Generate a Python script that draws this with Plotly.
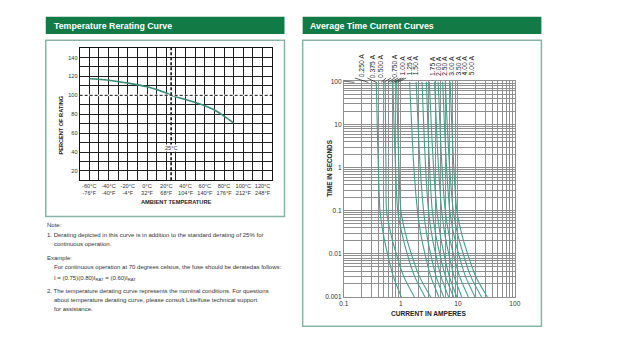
import math
import plotly.graph_objects as go

W, H = 625, 347
FONT = "Liberation Sans"
GREEN = "#127a45"
BOX = "#86b5a8"
CURVE_L = "#3a8a74"
CURVE_R = "#43a088"

# ---------------- Left chart data: temperature rerating ----------------
temp_c = [-60, -40, -20, 0, 20, 25, 40, 60, 70, 80, 90]
rating_pct = [117.5, 116, 113, 109, 102.5, 100, 95.5, 89, 84.5, 78, 70.5]
temp_tick_vals = [-60, -40, -20, 0, 20, 40, 60, 80, 100, 120]
temp_tick_text = ["-60°C<br>-76°F", "-40°C<br>-40°F", "-20°C<br>-4°F", "0°C<br>32°F",
                  "20°C<br>68°F", "40°C<br>104°F", "60°C<br>140°F", "80°C<br>176°F",
                  "100°C<br>212°F", "120°C<br>248°F"]
pct_tick_vals = [20, 40, 60, 80, 100, 120, 140]

# ---------------- Right chart data: average time-current curves ----------------
time_s = [100, 10, 1, 0.1, 0.03, 0.01, 0.003, 0.001]
amps_0250 = [0.37, 0.384, 0.402, 0.43, 0.489, 0.582, 0.734, 1.02]
amps_0375 = [0.53, 0.537, 0.546, 0.56, 0.663, 0.829, 1.12, 1.72]
amps_0500 = [0.72, 0.757, 0.804, 0.88, 1.04, 1.29, 1.74, 2.65]
amps_0750 = [0.84, 0.877, 0.924, 1.0, 1.2, 1.52, 2.11, 3.33]
amps_100 = [1.42, 1.54, 1.69, 1.95, 2.22, 2.64, 3.34, 4.64]
amps_125 = [1.85, 2.0, 2.18, 2.5, 2.82, 3.32, 4.14, 5.63]
amps_150 = [2.35, 2.51, 2.71, 3.05, 3.45, 4.06, 5.05, 6.88]
amps_175 = [2.8, 2.97, 3.19, 3.55, 4.04, 4.8, 6.07, 8.42]
amps_200 = [3.15, 3.41, 3.74, 4.3, 4.85, 5.7, 7.07, 9.6]
amps_250 = [3.9, 4.19, 4.57, 5.2, 5.87, 6.91, 8.6, 11.7]
amps_300 = [4.5, 4.84, 5.27, 6.0, 6.9, 8.33, 10.7, 15.3]
amps_350 = [5.4, 5.8, 6.33, 7.2, 8.39, 10.3, 13.6, 20]
amps_400 = [6.0, 6.51, 7.17, 8.3, 9.85, 12.4, 16.8, 26]
amps_500 = [7.3, 7.82, 8.49, 9.6, 11.6, 14.8, 20.6, 33]
curve_labels = ["0.250 A", "0.375 A", "0.500 A", "0.750 A", "1.00 A", "1.25 A", "1.50 A",
                "1.75 A", "2.00 A", "2.50 A", "3.00 A", "3.50 A", "4.00 A", "5.00 A"]
curve_amps = [amps_0250, amps_0375, amps_0500, amps_0750, amps_100, amps_125, amps_150,
              amps_175, amps_200, amps_250, amps_300, amps_350, amps_400, amps_500]
# where each rotated label sits along the current axis (amperes)
label_at_amps = [0.204, 0.316, 0.435, 0.789, 1.08, 1.43, 1.81,
                 3.56, 4.7, 5.97, 7.88, 10.4, 13.2, 17.4]

time_tick_major = [0.001, 0.01, 0.1, 1, 10, 100]
time_tick_text = ["0.001", "0.01", "0.1", "1", "10", "100"]
amp_tick_major = [0.1, 1, 10, 100]
amp_tick_text = ["0.1", "1", "10", "100"]


def X(px):
    return px / W


def Y(py):
    return 1 - py / H


def log_grid(lo_exp, hi_exp):
    vals = []
    for e in range(lo_exp, hi_exp):
        for d in range(1, 10):
            vals.append(d * 10 ** e)
    vals.append(10 ** hi_exp)
    return vals


fig = go.Figure()

fig.add_trace(go.Scatter(x=temp_c, y=rating_pct, mode="lines", xaxis="x", yaxis="y",
                         line=dict(color=CURVE_L, width=1.6, shape="spline"),
                         showlegend=False, hoverinfo="skip"))

for amps in curve_amps:
    fig.add_trace(go.Scatter(x=amps, y=time_s, mode="lines", xaxis="x2", yaxis="y2",
                             line=dict(color=CURVE_R, width=1.1, shape="spline", smoothing=0.8),
                             showlegend=False, hoverinfo="skip"))

# grids
x1_vals = list(range(-70, 131, 10))
x1_text = [temp_tick_text[temp_tick_vals.index(v)] if v in temp_tick_vals else "" for v in x1_vals]
y1_vals = list(range(10, 151, 10))
y1_text = [str(v) if v in pct_tick_vals else "" for v in y1_vals]

x2_vals = log_grid(-1, 2)
x2_text = [amp_tick_text[amp_tick_major.index(v)] if v in amp_tick_major else "" for v in x2_vals]
y2_vals = log_grid(-3, 2)
y2_text = [time_tick_text[time_tick_major.index(v)] if v in time_tick_major else "" for v in y2_vals]

tick_font_l = dict(family=FONT, size=5.6, color="#333")
tick_font_r = dict(family=FONT, size=6.6, color="#333")

fig.update_layout(
    width=W, height=H, margin=dict(l=0, r=0, t=0, b=0),
    paper_bgcolor="white", plot_bgcolor="white",
    xaxis=dict(domain=[X(76), X(272)], range=[-70, 130], tickmode="array",
               tickvals=x1_vals, ticktext=x1_text, showgrid=True, gridcolor="#1e1e1e",
               gridwidth=1, zeroline=False, showline=True, mirror=True, linecolor="#111",
               linewidth=1, ticks="", tickangle=0, tickfont=tick_font_l, anchor="y"),
    yaxis=dict(domain=[Y(180), Y(45)], range=[10, 150], tickmode="array",
               tickvals=y1_vals, ticktext=y1_text, showgrid=True, gridcolor="#1e1e1e",
               gridwidth=1, zeroline=False, showline=True, mirror=True, linecolor="#111",
               linewidth=1, ticks="", tickangle=0, tickfont=tick_font_l, anchor="x"),
    xaxis2=dict(domain=[X(345), X(519)], type="log", range=[-1, 2], tickmode="array",
                tickvals=x2_vals, ticktext=x2_text, showgrid=True, gridcolor="#8f8f8f",
                gridwidth=0.8, zeroline=False, showline=True, mirror=True,
                linecolor="#8f8f8f", linewidth=0.8, ticks="", tickangle=0,
                tickfont=tick_font_r, anchor="y2"),
    yaxis2=dict(domain=[Y(299), Y(79)], type="log", range=[-3, 2], tickmode="array",
                tickvals=y2_vals, ticktext=y2_text, showgrid=True, gridcolor="#8f8f8f",
                gridwidth=0.8, zeroline=False, showline=True, mirror=True,
                linecolor="#8f8f8f", linewidth=0.8, ticks="", tickangle=0,
                tickfont=tick_font_r, anchor="x2"),
)

shapes = []
# header bars
shapes.append(dict(type="rect", xref="paper", yref="paper", x0=X(41.5), x1=X(284.5),
                   y0=Y(30.5), y1=Y(13), fillcolor=GREEN, line=dict(width=0), layer="below"))
shapes.append(dict(type="rect", xref="paper", yref="paper", x0=X(303), x1=X(546),
                   y0=Y(30.5), y1=Y(13), fillcolor=GREEN, line=dict(width=0), layer="below"))
# panel boxes
shapes.append(dict(type="rect", xref="paper", yref="paper", x0=X(41.5), x1=X(284.5),
                   y0=Y(217), y1=Y(37), line=dict(color=BOX, width=1.5), layer="below"))
shapes.append(dict(type="rect", xref="paper", yref="paper", x0=X(303), x1=X(546),
                   y0=Y(329), y1=Y(37), line=dict(color=BOX, width=1.5), layer="below"))
# 100% dashed reference line
shapes.append(dict(type="line", xref="x", yref="y", x0=-70, x1=130, y0=100, y1=100,
                   line=dict(color="white", width=1.6)))
shapes.append(dict(type="line", xref="x", yref="y", x0=-70, x1=130, y0=100, y1=100,
                   line=dict(color="#111", width=1, dash="3px,2px")))
# 25 C dashed line
shapes.append(dict(type="line", xref="x", yref="y", x0=25, x1=25, y0=10, y1=150,
                   line=dict(color="#111", width=1.6, dash="3px,2px")))
# leader lines for curve labels
for amps, lab_a in zip(curve_amps, label_at_amps):
    shapes.append(dict(type="line", xref="x2", yref="paper",
                       x0=math.log10(lab_a), x1=math.log10(amps[0]),
                       y0=Y(75.5), y1=Y(80), line=dict(color="#222", width=0.7)))
fig.update_layout(shapes=shapes)

ann = []
ann.append(dict(text="<b>Temperature Rerating Curve</b>", x=X(48), y=Y(22), xref="paper",
                yref="paper", xanchor="left", yanchor="middle", showarrow=False,
                font=dict(family=FONT, size=8.8, color="white")))
ann.append(dict(text="<b>Average Time Current Curves</b>", x=X(308), y=Y(22), xref="paper",
                yref="paper", xanchor="left", yanchor="middle", showarrow=False,
                font=dict(family=FONT, size=8.8, color="white")))
# left axis titles
ann.append(dict(text="<b>PERCENT OF RATING</b>", x=X(57), y=Y(123), xref="paper", yref="paper",
                textangle=-90, showarrow=False, xanchor="center", yanchor="middle",
                font=dict(family=FONT, size=5.6, color="#222")))
ann.append(dict(text="<b>AMBIENT TEMPERATURE</b>", x=X(175), y=Y(202), xref="paper",
                yref="paper", showarrow=False, xanchor="center", yanchor="middle",
                font=dict(family=FONT, size=5.7, color="#222")))
ann.append(dict(text="25°C", x=25, y=44.5, xref="x", yref="y", showarrow=False,
                textangle=0, bgcolor="white", borderpad=0,
                font=dict(family=FONT, size=5.6, color="#333")))
# right axis titles
ann.append(dict(text="<b>TIME IN SECONDS</b>", x=X(330), y=Y(167), xref="paper", yref="paper",
                textangle=-90, showarrow=False, xanchor="center", yanchor="middle",
                font=dict(family=FONT, size=6.4, color="#222")))
ann.append(dict(text="<b>CURRENT IN AMPERES</b>", x=X(431), y=Y(315.5), xref="paper",
                yref="paper", showarrow=False, xanchor="center", yanchor="middle",
                font=dict(family=FONT, size=6.6, color="#222")))
# curve labels (rotated, centred on their own midpoint)
for lab, lab_a in zip(curve_labels, label_at_amps):
    ann.append(dict(text=lab, x=math.log10(lab_a), y=Y(63), xref="x2", yref="paper",
                    textangle=-90, showarrow=False, xanchor="center", yanchor="middle",
                    font=dict(family=FONT, size=6.8, color="#222")))

# notes
notes = [
    (41, 226, "Note:"),
    (41, 236, "1. Derating depicted in this curve is in addition to the standard derating of 25% for"),
    (48, 244.5, "continuous operation."),
    (41, 259, "Example:"),
    (48, 268, "For continuous operation at 70 degrees celsius, the fuse should be deratedas follows:"),
    (48, 280, "I = (0.75)(0.80)I<sub>RAT</sub> = (0.60)I<sub>RAT</sub>"),
    (41, 293, "2. The temperature derating curve represents the nominal conditions. For questions"),
    (48, 302, "about temperature derating curve, please consult Littelfuse technical support"),
    (48, 311, "for assistance."),
]
for px, py, t in notes:
    ann.append(dict(text=t, x=X(px), y=Y(py), xref="paper", yref="paper", xanchor="left",
                    yanchor="middle", showarrow=False,
                    font=dict(family=FONT, size=6.0, color="#333")))

fig.update_layout(annotations=ann)

fig.write_html("out.html")
